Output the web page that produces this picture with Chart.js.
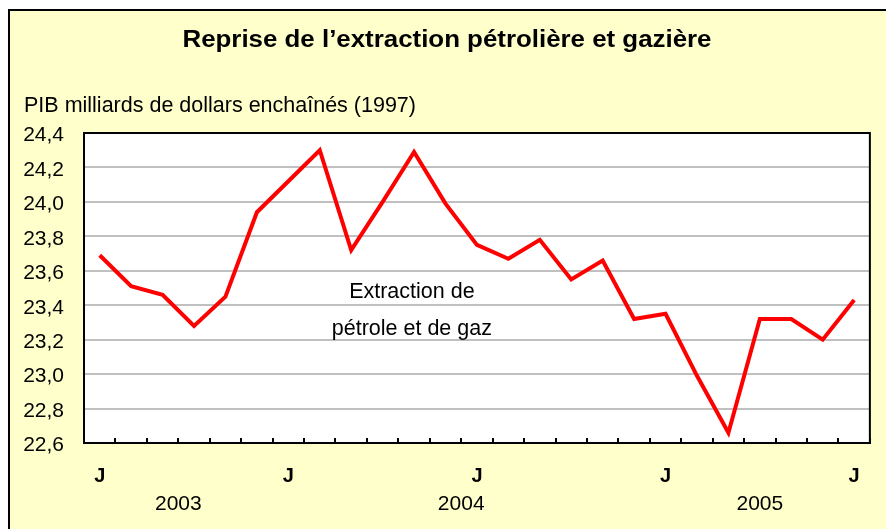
<!DOCTYPE html>
<html lang="fr">
<head>
<meta charset="UTF-8">
<title>Reprise de l’extraction pétrolière et gazière</title>
<script src="https://cdn.jsdelivr.net/npm/chart.js"></script>
<style>
  html, body { margin: 0; padding: 0; background: #fff; }
  canvas { display: block; }
</style>
</head>
<body>
<canvas id="graphique" width="886" height="529"></canvas>
<script>
// juillet 2003 à juillet 2005, une lettre par mois
const mois = ['J', 'A', 'S', 'O', 'N', 'D',
              'J', 'F', 'M', 'A', 'M', 'J', 'J', 'A', 'S', 'O', 'N', 'D',
              'J', 'F', 'M', 'A', 'M', 'J', 'J'];
const extraction = [23.69, 23.51, 23.46, 23.28, 23.45, 23.94, 24.12, 24.30, 23.72, 24.00,
                    24.29, 23.99, 23.75, 23.67, 23.78, 23.55, 23.66, 23.32, 23.35, 22.99,
                    22.66, 23.32, 23.32, 23.20, 23.43];
const annees = ['2003', '2004', '2005'];
const anneeDebut = [0, 6, 18];
const anneeFin = [5, 17, 24];
const yMin = 22.6, yMax = 24.4, yPas = 0.2;

const titre = 'Reprise de l’extraction pétrolière et gazière';
const titreAxe = 'PIB milliards de dollars enchaînés (1997)';
const annotation = ['Extraction de', 'pétrole et de gaz'];
const annotationX = 9.93;
const annotationY = [23.44, 23.23];

const police = '"Liberation Sans", Arial, sans-serif';

// texte étiré horizontalement jusqu'à une largeur donnée
function texteEtire(ctx, txt, x, y, largeur) {
    const w = ctx.measureText(txt).width;
    ctx.save();
    ctx.translate(x, y);
    ctx.scale(largeur / w, 1);
    ctx.fillText(txt, 0, 0);
    ctx.restore();
}

const cadre = {
    id: 'cadre',
    beforeDraw(chart) {
        const { ctx, chartArea: a, width, height } = chart;
        ctx.save();
        ctx.fillStyle = '#ffffff';
        ctx.fillRect(0, 0, width, height);
        ctx.fillStyle = '#ffffcc';
        ctx.fillRect(9, 10, width - 9, height - 10);
        ctx.strokeStyle = '#000';
        ctx.lineWidth = 2;
        ctx.beginPath();
        ctx.moveTo(9, height);
        ctx.lineTo(9, 10);
        ctx.lineTo(width, 10);
        ctx.stroke();
        ctx.fillStyle = '#ffffff';
        ctx.fillRect(a.left, a.top, a.right - a.left, a.bottom - a.top);
        ctx.restore();
    },
    afterDraw(chart) {
        const { ctx, chartArea: a, scales } = chart;
        ctx.save();
        ctx.strokeStyle = '#000';
        ctx.lineWidth = 2;
        ctx.strokeRect(a.left, a.top, a.right - a.left, a.bottom - a.top);

        ctx.fillStyle = '#000';
        ctx.textBaseline = 'alphabetic';
        ctx.textAlign = 'center';
        ctx.font = 'bold 23px ' + police;
        texteEtire(ctx, titre, 447, 47, 529);

        ctx.textAlign = 'left';
        ctx.font = '21.5px ' + police;
        ctx.fillText(titreAxe, 24, 112);

        // étiquettes des années, centrées sous leurs mois
        ctx.textAlign = 'center';
        ctx.font = '21px ' + police;
        annees.forEach((an, i) => {
            const x = (scales.x.getPixelForValue(anneeDebut[i]) + scales.x.getPixelForValue(anneeFin[i])) / 2;
            ctx.fillText(an, x, 510);
        });

        // texte dans le graphique
        ctx.font = '21.5px ' + police;
        const pas = scales.x.getPixelForValue(1) - scales.x.getPixelForValue(0);
        const ax = scales.x.getPixelForValue(0) + annotationX * pas;
        annotation.forEach((ligne, i) => {
            ctx.fillText(ligne, ax, scales.y.getPixelForValue(annotationY[i]));
        });
        ctx.restore();
    }
};

new Chart(document.getElementById('graphique'), {
    type: 'line',
    data: {
        labels: mois,
        datasets: [{
            label: 'Extraction de pétrole et de gaz',
            data: extraction,
            borderColor: '#ff0000',
            borderWidth: 4,
            pointRadius: 0,
            fill: false,
            tension: 0
        }]
    },
    options: {
        responsive: false,
        animation: false,
        layout: { padding: { left: 20, top: 133, right: 14, bottom: 0 } },
        plugins: {
            legend: { display: false },
            tooltip: { enabled: false }
        },
        scales: {
            x: {
                type: 'category',
                offset: true,
                grid: { offset: true, drawOnChartArea: false, drawTicks: true, tickLength: -5, color: '#000', lineWidth: 2 },
                border: { display: true, color: '#000', width: 2 },
                ticks: {
                    autoSkip: false,
                    maxRotation: 0,
                    padding: 26,
                    color: '#000',
                    font: { family: police, size: 20, weight: 'bold' },
                    callback: (v, i) => i % 6 === 0 ? mois[i] : ''
                },
                afterFit: s => { s.height = 86; }
            },
            y: {
                min: yMin,
                max: yMax,
                grid: { color: '#c0c0c0', lineWidth: 2, drawTicks: false },
                border: { display: true, color: '#000', width: 2 },
                ticks: {
                    stepSize: yPas,
                    padding: 20,
                    labelOffset: 2.5,
                    color: '#000',
                    font: { family: police, size: 21 },
                    callback: v => v.toFixed(1).replace('.', ',')
                },
                afterFit: s => { s.width = 64; }
            }
        }
    },
    plugins: [cadre]
});
</script>
</body>
</html>
